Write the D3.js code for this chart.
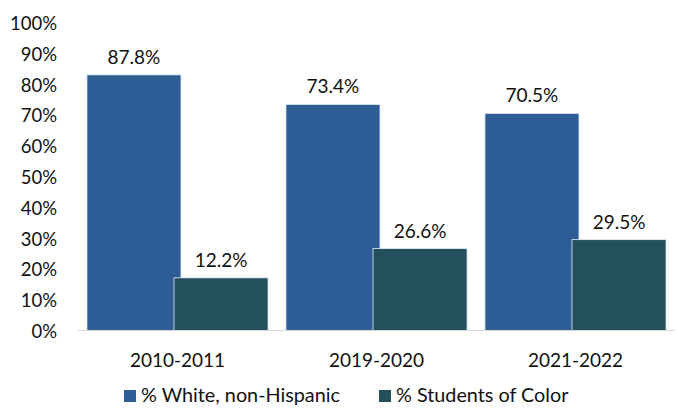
<!DOCTYPE html>
<html>
<head>
<meta charset="utf-8">
<script src="https://cdn.jsdelivr.net/npm/d3@7"></script>
<style>
  html, body { margin: 0; padding: 0; background: #fff; }
  svg { display: block; font-family: Lato, "Open Sans", sans-serif; }
</style>
</head>
<body>
<svg id="chart" width="678" height="413"></svg>
<script>
// ---- data ----
const categories = ["2010-2011", "2019-2020", "2021-2022"];
const seriesNames = ["% White, non-Hispanic", "% Students of Color"];
// bar heights as drawn in the reference (percent)
const whiteValues = [83.0, 73.4, 70.5];
const colorValues = [17.1, 26.6, 29.5];
// data labels as printed in the reference
const whiteLabels = ["87.8%", "73.4%", "70.5%"];
const colorLabels = ["12.2%", "26.6%", "29.5%"];
const yTicks = [0, 10, 20, 30, 40, 50, 60, 70, 80, 90, 100];
const seriesColors = ["#2E5D95", "#24505C"];

// ---- layout ----
const svg = d3.select("#chart");
const x0 = 78, x1 = 675, yBase = 330.5, yTop = 22.5;

const x = d3.scaleBand().domain(categories).range([x0, x1])
  .paddingInner(0.09).paddingOuter(0.045);
const y = d3.scaleLinear().domain([0, 100]).range([yBase, yTop]);

const bw = x.bandwidth();
const barW = bw * 94 / 181;

const series = [
  { name: seriesNames[0], values: whiteValues, labels: whiteLabels, color: seriesColors[0], off: 0 },
  { name: seriesNames[1], values: colorValues, labels: colorLabels, color: seriesColors[1], off: bw - barW }
];

// y tick labels
svg.append("g").selectAll("text").data(yTicks).enter().append("text")
  .attr("x", 57).attr("y", d => y(d) + 0.5)
  .attr("text-anchor", "end").attr("dominant-baseline", "central")
  .attr("font-size", 18.5).attr("fill", "#111")
  .text(d => d + "%");

// bars
series.forEach(s => {
  const g = svg.append("g");
  g.selectAll("rect").data(categories).enter().append("rect")
    .attr("x", c => x(c) + s.off)
    .attr("y", (c, i) => y(s.values[i]))
    .attr("width", barW)
    .attr("height", (c, i) => y(0) - y(s.values[i]))
    .attr("fill", s.color)
    .attr("stroke", "#e8eef4").attr("stroke-width", 0.8);
  g.selectAll("text").data(categories).enter().append("text")
    .attr("x", c => x(c) + s.off + barW / 2)
    .attr("y", (c, i) => y(s.values[i]) - 11)
    .attr("text-anchor", "middle")
    .attr("font-size", 19).attr("fill", "#111")
    .text((c, i) => s.labels[i]);
});

// x axis line
svg.append("line").attr("x1", x0).attr("x2", x1)
  .attr("y1", yBase).attr("y2", yBase)
  .attr("stroke", "#d9d9d9").attr("stroke-width", 1.2);

// x labels
svg.append("g").selectAll("text").data(categories).enter().append("text")
  .attr("x", c => x(c) + bw / 2).attr("y", 366.5)
  .attr("text-anchor", "middle").attr("font-size", 19).attr("fill", "#111")
  .text(c => c);

// legend
const legendX = [124, 379];
const leg = svg.append("g");
series.forEach((s, i) => {
  leg.append("rect").attr("x", legendX[i]).attr("y", 390).attr("width", 12).attr("height", 12)
    .attr("fill", s.color);
  leg.append("text").attr("x", legendX[i] + 17).attr("y", 402)
    .attr("font-size", 19.8).attr("fill", "#111").text(s.name);
});
</script>
</body>
</html>
